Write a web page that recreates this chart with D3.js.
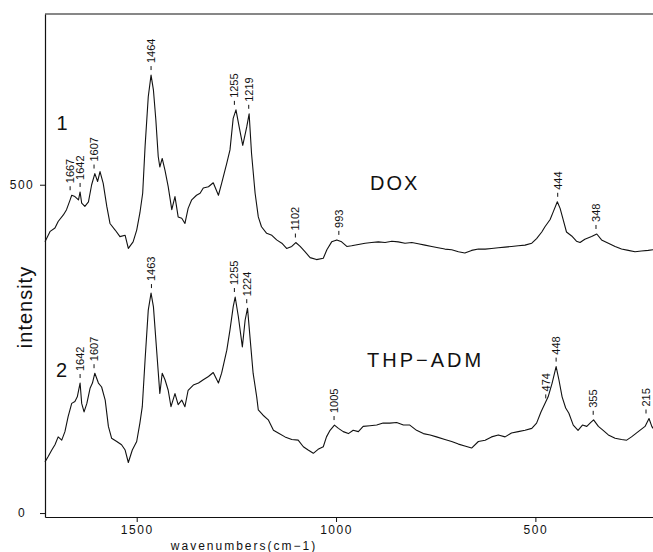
<!DOCTYPE html>
<html lang="en">
<head>
    <meta charset="UTF-8">
    <script src="https://d3js.org/d3.v7.min.js"></script>
    <title>Raman spectra DOX / THP-ADM</title>
    <style>
        body { margin: 0; background: #fff; }
        text { font-family: "Liberation Sans", Arial, sans-serif; fill: #111; }
    </style>
</head>
<body>
    <script>
        // spectrum 1 (DOX): wavenumber / intensity
        var wn1 = [1730,1717,1705,1697,1684,1676,1667,1663,1655,1646,
                   1642,1638,1630,1621,1613,1605,1598,1592,1584,1575,
                   1567,1554,1542,1529,1521,1509,1500,1492,1485,1479,
                   1471,1464,1458,1452,1446,1442,1436,1429,1421,1412,
                   1404,1396,1387,1379,1371,1362,1350,1341,1333,1320,
                   1308,1295,1287,1274,1266,1258,1251,1243,1234,1224,
                   1218,1212,1203,1195,1187,1174,1161,1149,1136,1124,
                   1111,1101,1090,1078,1065,1049,1032,1023,1011,998,
                   986,973,961,944,927,911,894,877,860,844,
                   827,810,794,777,760,744,727,710,693,677,
                   660,643,626,610,593,576,560,543,526,509,
                   497,484,476,463,455,445,438,430,422,409,
                   397,388,376,359,346,334,317,300,284,267,
                   250,234,217,205];
        var int1 = [413,429,434,444,454,462,477,484,482,477,
                    489,472,467,474,500,517,505,520,502,467,
                    441,431,421,423,403,413,431,457,487,558,
                    634,667,644,599,543,527,540,522,497,462,
                    482,451,449,441,464,477,484,487,495,497,
                    503,484,502,533,553,601,614,588,560,588,
                    608,548,487,451,436,426,423,416,411,403,
                    406,412,406,398,389,386,388,401,413,416,
                    413,406,407,409,411,412,413,412,414,413,
                    411,412,410,408,406,404,402,401,398,396,
                    400,402,402,403,404,405,406,407,408,411,
                    418,428,436,447,459,474,464,446,428,422,
                    414,412,417,421,425,416,411,406,402,400,
                    398,399,400,401];

        // spectrum 2 (THP-ADM)
        var wn2 = [1730,1722,1713,1705,1697,1688,1680,1672,1663,1655,
                   1649,1642,1638,1632,1625,1617,1611,1605,1596,1588,
                   1579,1571,1563,1550,1538,1529,1521,1511,1500,1492,
                   1486,1479,1471,1464,1458,1450,1442,1436,1429,1421,
                   1414,1404,1396,1387,1379,1371,1358,1345,1333,1320,
                   1308,1295,1287,1274,1266,1258,1253,1245,1235,1228,
                   1222,1216,1208,1199,1195,1183,1170,1157,1145,1128,
                   1111,1095,1082,1070,1057,1045,1032,1024,1015,1004,
                   994,982,969,957,944,932,915,898,882,865,
                   848,831,815,798,781,764,748,727,710,693,
                   677,660,643,626,610,593,576,560,543,526,
                   509,497,486,476,468,458,448,441,433,424,
                   416,405,393,382,371,361,354,342,330,317,
                   300,284,271,259,242,225,215,208,205];
        var int2 = [78,86,96,104,116,111,124,147,167,170,
                    177,198,167,154,167,190,198,213,198,192,
                    172,132,114,109,104,96,77,96,109,137,
                    162,233,309,335,314,248,182,213,203,187,
                    162,182,165,172,162,187,195,198,203,208,
                    214,198,213,248,279,314,329,299,253,294,
                    312,269,213,177,157,149,142,126,122,116,
                    112,111,101,96,91,97,101,116,126,134,
                    129,124,121,126,124,132,133,134,137,137,
                    138,134,134,126,121,119,116,112,109,105,
                    102,99,109,111,116,119,116,122,124,126,
                    129,137,154,167,177,198,223,203,177,160,
                    152,134,126,134,132,138,142,132,126,119,
                    114,112,111,116,124,132,144,132,129];

        // labelled peaks
        var peaks1 = [1667,1642,1607,1464,1255,1219,1102,993,444,348];
        var peaks2 = [1642,1607,1463,1255,1224,1005,474,448,355,215];

        // ticks
        var xTicks = [1500,1000,500];
        var yTicks = [0,500];

        var svg = d3.select("body").append("svg").attr("width",653).attr("height",552);

        var x = d3.scaleLinear().domain([1730,205]).range([45,653]);
        var y = d3.scaleLinear().domain([-6,760]).range([517,14]);

        // frame top line
        svg.append("line").attr("x1",45).attr("x2",653).attr("y1",y(760)).attr("y2",y(760))
           .attr("stroke","#111").attr("stroke-width",1.2);

        var xAxis = svg.append("g").attr("transform","translate(0,"+y(-6)+")")
            .call(d3.axisBottom(x).tickValues(xTicks).tickFormat(d3.format("d"))
                  .tickSize(5).tickSizeOuter(0).tickPadding(3));
        var yAxis = svg.append("g").attr("transform","translate(45,0)")
            .call(d3.axisLeft(y).tickValues(yTicks).tickFormat(d3.format("d"))
                  .tickSize(5).tickSizeOuter(0));

        [xAxis,yAxis].forEach(function(g){
            g.select(".domain").attr("stroke","#111").attr("stroke-width",1.2);
            g.selectAll(".tick line").attr("stroke","#111");
            g.selectAll("text").style("font-size","12px").style("letter-spacing","1.5px")
             .style("font-family","'Liberation Sans', Arial, sans-serif").attr("fill","#111");
        });
        yAxis.selectAll("text").attr("text-anchor","middle").attr("x",-23);

        var line = d3.line().x(function(d){return x(d[0]);}).y(function(d){return y(d[1]);});

        var series = [
            {wn: wn1, val: int1, peaks: peaks1},
            {wn: wn2, val: int2, peaks: peaks2}
        ];

        series.forEach(function(s){
            var pts = d3.zip(s.wn, s.val);
            svg.append("path").datum(pts).attr("d",line)
               .attr("fill","none").attr("stroke","#111").attr("stroke-width",1.1)
               .attr("stroke-linejoin","round");

            // peak labels: tick + rotated number just above the local maximum
            s.peaks.forEach(function(p){
                var near = pts.filter(function(d){return Math.abs(d[0]-p)<=5;});
                var top = d3.max(near,function(d){return d[1];});
                var yb = y(top)-5;
                var px = Math.min(x(p), 646);
                svg.append("line").attr("x1",px).attr("x2",px)
                   .attr("y1",yb).attr("y2",yb-4).attr("stroke","#111").attr("stroke-width",1);
                svg.append("text").text(p)
                   .attr("transform","translate("+px+","+(yb-7)+") rotate(-90)")
                   .attr("dominant-baseline","central")
                   .style("font-size","11px");
            });
        });

        // curve numbers and names
        svg.append("text").text("1").attr("x",62).attr("y",130).attr("text-anchor","middle").style("font-size","20px");
        svg.append("text").text("2").attr("x",61.5).attr("y",377).attr("text-anchor","middle").style("font-size","20px");
        svg.append("text").text("DOX").attr("x",370).attr("y",190).style("font-size","20px").style("letter-spacing","2px");
        svg.append("text").text("THP\u2212ADM").attr("x",367).attr("y",367).style("font-size","20px").style("letter-spacing","3px");

        // axis titles
        svg.append("text").text("intensity").attr("transform","translate(25,307) rotate(-90)")
           .attr("text-anchor","middle").attr("dominant-baseline","central")
           .style("font-size","20px").style("letter-spacing","1px");
        svg.append("text").text("wavenumbers(cm\u22121)").attr("x",244).attr("y",550)
           .attr("text-anchor","middle").style("font-size","12px").style("letter-spacing","2px");
    </script>
</body>
</html>
